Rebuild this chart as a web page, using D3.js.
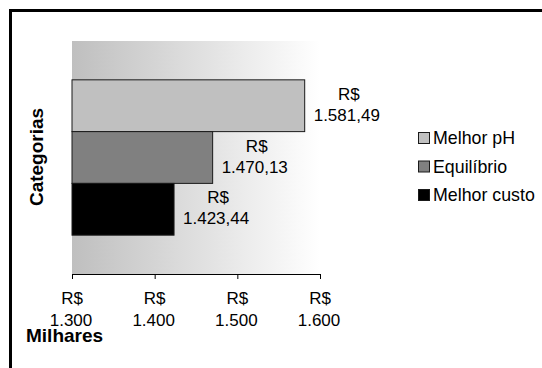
<!DOCTYPE html>
<html>
<head>
<meta charset="utf-8">
<script src="https://cdn.jsdelivr.net/npm/d3@7"></script>
<style>
  html, body { margin: 0; padding: 0; background: #fff; }
  svg { display: block; font-family: "Liberation Sans", Arial, sans-serif; }
</style>
</head>
<body>
<svg id="chart" width="542" height="368"></svg>
<script>
// Custo por cenário (R$ milhares)
const series = ["Melhor pH", "Equilíbrio", "Melhor custo"];
const values = [1581.49, 1470.13, 1423.44];
const colors = ["#c0c0c0", "#808080", "#000000"];
const tickValues = [1300, 1400, 1500, 1600];
const xTitle = "Milhares";
const yTitle = "Categorias";

const fmt = v => v.toLocaleString("pt-BR", { minimumFractionDigits: 2, maximumFractionDigits: 2 });
const fmtTick = v => v.toLocaleString("pt-BR", { maximumFractionDigits: 0 });

const svg = d3.select("#chart");
const plot = { left: 72, right: 320, top: 41, bottom: 274 };
const fs = 17;

// Frame (top and left edges only)
svg.append("path")
  .attr("d", "M10.5,368 V10.5 H542")
  .attr("fill", "none").attr("stroke", "#000").attr("stroke-width", 3);

// Plot background gradient
const defs = svg.append("defs");
const grad = defs.append("linearGradient").attr("id", "bg").attr("x1", "0").attr("x2", "1").attr("y1", "0").attr("y2", "0");
grad.append("stop").attr("offset", "0").attr("stop-color", "#bfbfbf");
grad.append("stop").attr("offset", "1").attr("stop-color", "#ffffff");

svg.append("rect")
  .attr("x", plot.left).attr("y", plot.top)
  .attr("width", plot.right - plot.left).attr("height", plot.bottom - plot.top)
  .attr("fill", "url(#bg)");

const x = d3.scaleLinear().domain([1300, 1600]).range([plot.left, plot.right]);
const y = d3.scaleBand().domain(series).range([plot.top, plot.bottom]).paddingInner(0).paddingOuter(0.75);

// Bars
svg.append("g").selectAll("rect").data(series).join("rect")
  .attr("x", x(1300))
  .attr("y", d => y(d))
  .attr("width", (d, i) => x(values[i]) - x(1300))
  .attr("height", y.bandwidth())
  .attr("fill", (d, i) => colors[i])
  .attr("stroke", "#1a1a1a").attr("stroke-width", 1);

// Value labels: "R$" above the number, to the right of each bar
const lab = svg.append("g").attr("font-size", fs).attr("fill", "#000");
series.forEach((s, i) => {
  const bc = y(s) + y.bandwidth() / 2;
  const num = lab.append("text").text(fmt(values[i])).attr("text-anchor", "middle");
  const w = num.node().getComputedTextLength();
  const cx = x(values[i]) + 9 + w / 2;
  num.attr("x", cx).attr("y", bc + 15);
  lab.append("text").text("R$").attr("text-anchor", "middle").attr("x", cx + 2).attr("y", bc - 6);
});

// X axis
const axis = svg.append("g").attr("transform", `translate(0,${plot.bottom})`)
  .call(d3.axisBottom(x).tickValues(tickValues).tickSize(5).tickFormat(""));
axis.select(".domain").attr("stroke", "#000");
axis.selectAll(".tick line").attr("stroke", "#000");

const tl = svg.append("g").attr("font-size", fs).attr("fill", "#000").attr("text-anchor", "middle");
tickValues.forEach(v => {
  tl.append("text").attr("x", x(v)).attr("y", 304).text("R$");
  tl.append("text").attr("x", x(v) - 1).attr("y", 326).text(fmtTick(v));
});

// Axis titles
svg.append("text").attr("x", 26).attr("y", 341.5)
  .attr("font-size", 19).attr("font-weight", "bold").text(xTitle);
svg.append("text").attr("transform", "translate(43,157) rotate(-90)")
  .attr("text-anchor", "middle").attr("font-size", 19).attr("font-weight", "bold").text(yTitle);

// Legend
const lg = svg.append("g").attr("font-size", 17.8);
const legY = [138, 166.5, 195];
series.forEach((s, i) => {
  lg.append("rect").attr("x", 418.5).attr("y", legY[i] - 5.5).attr("width", 11).attr("height", 11)
    .attr("fill", colors[i]).attr("stroke", "#1a1a1a").attr("stroke-width", 1);
  lg.append("text").attr("x", 433).attr("y", legY[i] + 6).text(s);
});
</script>
</body>
</html>
